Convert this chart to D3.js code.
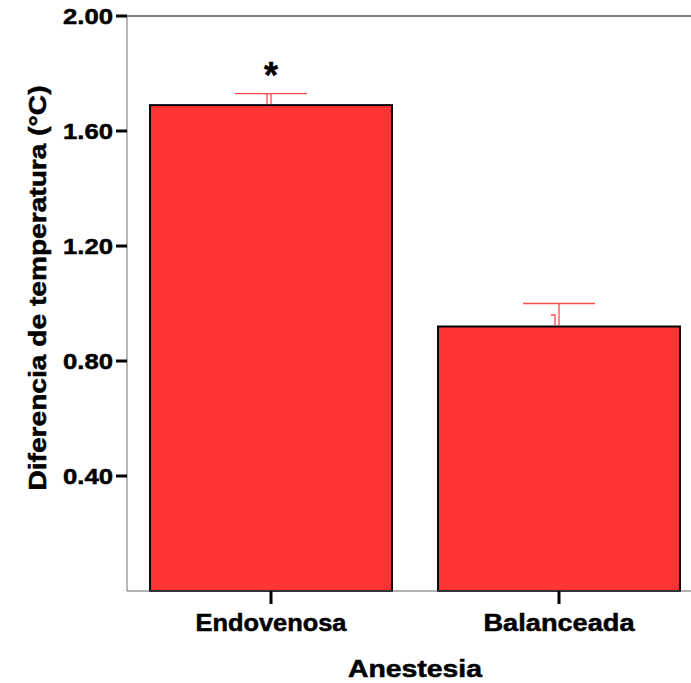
<!DOCTYPE html>
<html><head><meta charset="utf-8">
<script src="https://cdn.jsdelivr.net/npm/d3@7"></script>
<style>body{margin:0;background:#fff}svg{display:block}text{font-family:"Liberation Sans",Arial,sans-serif;font-weight:bold;fill:#000;stroke:#000;stroke-width:0.5px}</style>
</head><body>
<script>
const categories = ["Endovenosa", "Balanceada"];
const means = [1.69, 0.92];
const upper = [1.73, 1.00];
const inner = [1.73, 0.96];
const yTicks = [0.40, 0.80, 1.20, 1.60, 2.00];
const sigMarks = ["*", ""];
const xTitle = "Anestesia";
const yTitle = "Diferencia de temperatura (°C)";

const W = 691, H = 683;
const L = 127, T = 16, R = 691, B = 591;
const svg = d3.select("body").append("svg").attr("width", W).attr("height", H);

const y = d3.scaleLinear().domain([0, 2]).range([B, T]);
const x = d3.scaleBand().domain(categories).range([127, 703]).paddingInner(0.16).paddingOuter(0.08);

// frame
svg.append("line").attr("x1", L).attr("x2", R).attr("y1", T).attr("y2", T).attr("stroke", "#555").attr("stroke-width", 1.5);
svg.append("line").attr("x1", L).attr("x2", L).attr("y1", T).attr("y2", B).attr("stroke", "#888").attr("stroke-width", 1.2);

// bars
svg.selectAll("rect.bar").data(categories).enter().append("rect")
  .attr("x", d => x(d)).attr("width", x.bandwidth())
  .attr("y", (d, i) => y(means[i])).attr("height", (d, i) => y(0) - y(means[i]))
  .attr("fill", "#ff3434").attr("stroke", "#000").attr("stroke-width", 2);

svg.append("line").attr("x1", L).attr("x2", R).attr("y1", B).attr("y2", B).attr("stroke", "#666").attr("stroke-width", 1.2);

// error bars
const ec = "#ff4a4a";
categories.forEach((c, i) => {
  const cx = x(c) + x.bandwidth() / 2;
  const g = svg.append("g").attr("stroke", ec).attr("stroke-width", 1.3).attr("fill", "none");
  g.append("line").attr("x1", cx - 36).attr("x2", cx + 36).attr("y1", y(upper[i])).attr("y2", y(upper[i]));
  g.append("line").attr("x1", cx).attr("x2", cx).attr("y1", y(upper[i])).attr("y2", y(means[i]) - 1);
  g.append("path").attr("d", `M${cx - 8},${y(inner[i])}H${cx - 4}V${y(means[i]) - 1}`);
  svg.append("text").attr("x", cx).attr("y", y(upper[i]) - 6).attr("text-anchor", "middle")
    .attr("font-size", 36).text(sigMarks[i]);
});

// y axis ticks
svg.selectAll("g.yt").data(yTicks).enter().append("g").each(function (d) {
  const g = d3.select(this);
  g.append("line").attr("x1", L - 11).attr("x2", L).attr("y1", y(d)).attr("y2", y(d)).attr("stroke", "#000").attr("stroke-width", 3);
  g.append("text").attr("x", L - 14).attr("y", y(d)).attr("dy", "0.36em").attr("text-anchor", "end")
    .attr("font-size", 22).attr("textLength", 50).attr("lengthAdjust", "spacingAndGlyphs").text(d3.format(".2f")(d));
});

// x axis ticks + labels
categories.forEach(c => {
  const cx = x(c) + x.bandwidth() / 2;
  svg.append("line").attr("x1", cx).attr("x2", cx).attr("y1", B).attr("y2", B + 13).attr("stroke", "#000").attr("stroke-width", 3);
  svg.append("text").attr("x", cx).attr("y", 631).attr("text-anchor", "middle").attr("font-size", 23)
    .attr("textLength", 151).attr("lengthAdjust", "spacingAndGlyphs").text(c);
});

svg.append("text").attr("x", 415).attr("y", 677).attr("text-anchor", "middle").attr("font-size", 23)
  .attr("textLength", 134).attr("lengthAdjust", "spacingAndGlyphs").text(xTitle);

svg.append("text").attr("transform", "translate(46,288) rotate(-90)").attr("text-anchor", "middle").attr("font-size", 23)
  .attr("textLength", 405).attr("lengthAdjust", "spacingAndGlyphs").text(yTitle);
</script>
</body></html>
